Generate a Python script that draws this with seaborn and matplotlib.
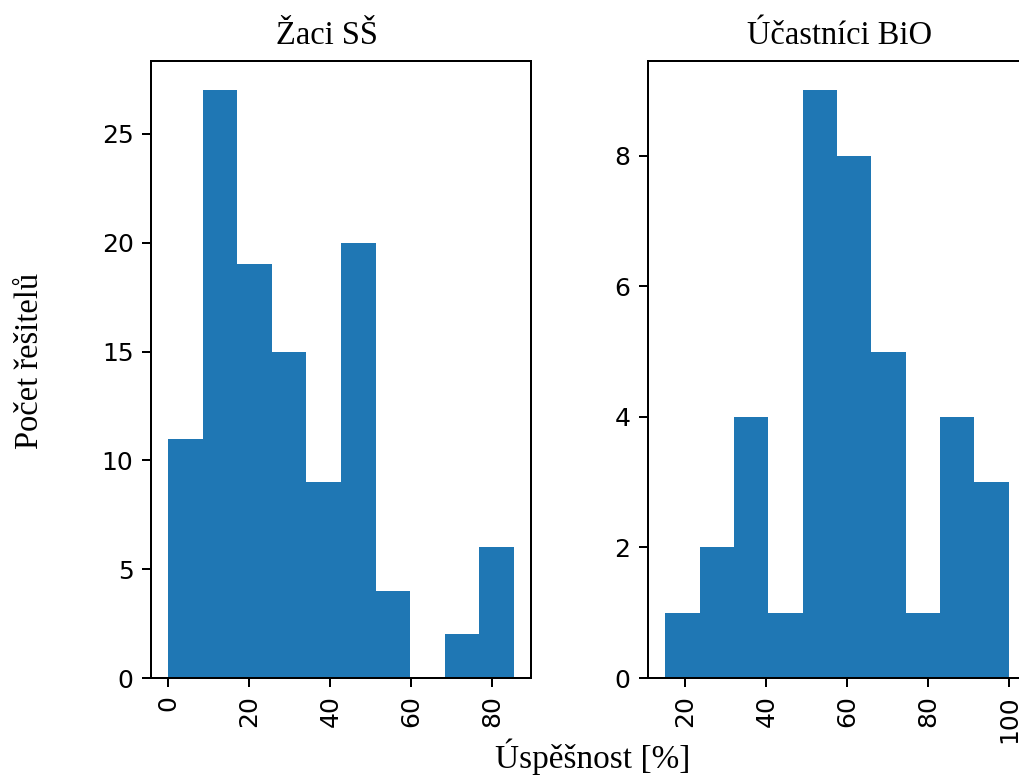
import matplotlib
matplotlib.use("Agg")
import matplotlib.pyplot as plt
import seaborn as sns
import numpy as np

# Data: histogram bin edges and counts
ss_edges = [0.0, 8.53, 17.06, 25.59, 34.12, 42.65, 51.18, 59.71, 68.24, 76.77, 85.3]
ss_counts = [11, 27, 19, 15, 9, 20, 4, 0, 2, 6]
bio_edges = [15.0, 23.5, 32.0, 40.5, 49.0, 57.5, 66.0, 74.5, 83.0, 91.5, 100.0]
bio_counts = [1, 2, 4, 1, 9, 8, 5, 1, 4, 3]

titles = ["Žaci SŠ", "Účastníci BiO"]
xlabel = "Úspěšnost [%]"
ylabel = "Počet řešitelů"
ss_yticks = [0, 5, 10, 15, 20, 25]
bio_yticks = [0, 2, 4, 6, 8]
ss_xticks = [0, 20, 40, 60, 80]
bio_xticks = [20, 40, 60, 80, 100]

sns.set_style("ticks")
plt.rcParams["font.family"] = ["DejaVu Sans"]
plt.rcParams["font.size"] = 10

DPI = 180
fig = plt.figure(figsize=(1019 / DPI, 776 / DPI), dpi=DPI)

ax1 = fig.add_axes([151 / 1019, 98 / 776, 380 / 1019, 617 / 776])
ax2 = fig.add_axes([648 / 1019, 98 / 776, 378 / 1019, 617 / 776])

blue = "#1f77b4"
serif = ["Liberation Serif", "DejaVu Serif"]

for ax, edges, counts, title, yt, xt in [
    (ax1, ss_edges, ss_counts, titles[0], ss_yticks, ss_xticks),
    (ax2, bio_edges, bio_counts, titles[1], bio_yticks, bio_xticks),
]:
    e = np.array(edges)
    centers = (e[:-1] + e[1:]) / 2
    sns.histplot(x=centers, weights=counts, bins=edges, ax=ax, color=blue,
                 alpha=1.0, edgecolor=blue, linewidth=0.0, stat="count")
    ax.set_xlabel("")
    ax.set_ylabel("")
    ax.set_yticks(yt)
    ax.set_xticks(xt)
    ax.tick_params(axis="x", labelrotation=90)
    ax.tick_params(labelsize=10, colors="black", length=3.5, width=0.8)
    for s in ax.spines.values():
        s.set_visible(True)
        s.set_color("black")
        s.set_linewidth(0.8)
    ax.margins(x=0.05, y=0.05)
    ax.set_ylim(0, max(counts) * 1.05)
    ax.set_title(title, fontsize=13, family=serif, pad=7, color="black")

ax1.title.set_x(0.463)
ax2.title.set_x(0.508)

fig.text(593 / 1019, 1 - 757 / 776, xlabel, fontsize=13.3, family=serif,
         ha="center", va="center", color="black")
fig.text(30 / 1019, 1 - 361 / 776, ylabel, fontsize=13, family=serif,
         ha="center", va="center", rotation=90, color="black")

fig.savefig("out.png", dpi=DPI)
